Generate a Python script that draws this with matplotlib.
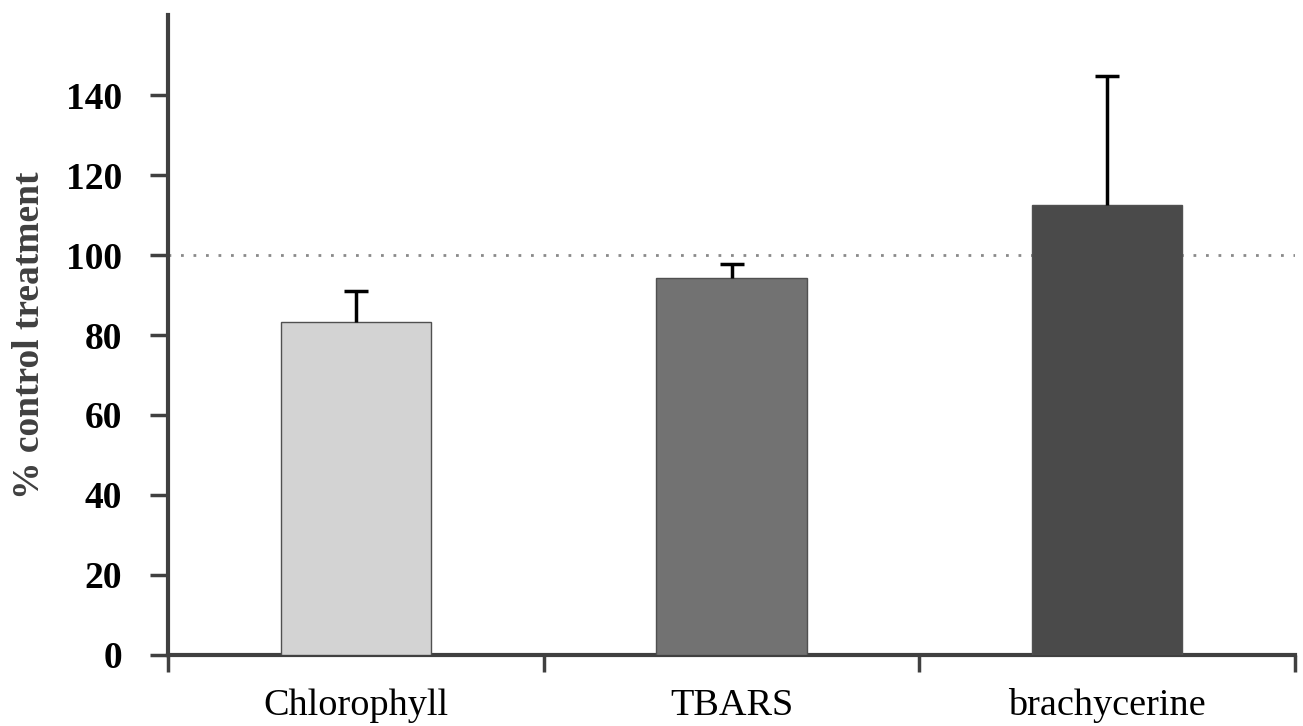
import matplotlib
matplotlib.use("Agg")
import matplotlib.pyplot as plt
import numpy as np

categories = ["Chlorophyll", "TBARS", "brachycerine"]
values = [83.2, 94.3, 112.6]
errors_upper = [7.8, 3.5, 32.2]
colors = ["#d3d3d3", "#727272", "#4a4a4a"]
reference_level = 100
yticks = [0, 20, 40, 60, 80, 100, 120, 140]

plt.rcParams['font.family'] = ['Liberation Serif', 'DejaVu Serif']

fig = plt.figure(figsize=(13.03, 7.26), dpi=100)
ax = fig.add_axes([0.129, 0.098, 0.865, 0.881])

x = np.arange(len(categories))
ax.bar(x, values, width=0.4, color=colors, edgecolor="#505050", linewidth=1.0, zorder=3)
eb = ax.errorbar(x, values, yerr=[np.zeros(len(values)), errors_upper], fmt="none",
                 ecolor="black", elinewidth=2.5, capsize=8.5, capthick=2.5, zorder=4)
# hide the lower caps (only upper error shown)
eb[1][0].set_visible(False)
ax.axhline(reference_level, color="#8a8a8a", linestyle=(0, (1, 3.5)), linewidth=2.0, zorder=2)

ax.set_xlim(-0.5, 2.5)
ax.set_ylim(0, 160)
ax.set_yticks(yticks)
ax.set_yticklabels([str(t) for t in yticks], fontsize=27, fontweight="bold")
ax.set_xticks([-0.5, 0.5, 1.5, 2.5])
ax.set_xticklabels([])
ax.set_xticks(x, minor=True)
ax.set_xticklabels(categories, minor=True, fontsize=27.5)
ax.tick_params(axis="x", which="minor", length=0, pad=24)
ax.tick_params(axis="x", which="major", length=12, width=2.5, color="#404040", direction="out")
ax.tick_params(axis="y", length=13, width=2.5, color="#404040", direction="out", pad=20)

for s in ["top", "right"]:
    ax.spines[s].set_visible(False)
for s in ["left", "bottom"]:
    ax.spines[s].set_linewidth(3)
    ax.spines[s].set_color("#404040")

ax.set_ylabel("% control treatment", fontsize=27, fontweight="bold", labelpad=14, color="#404040")

fig.savefig("out.png", dpi=100)
